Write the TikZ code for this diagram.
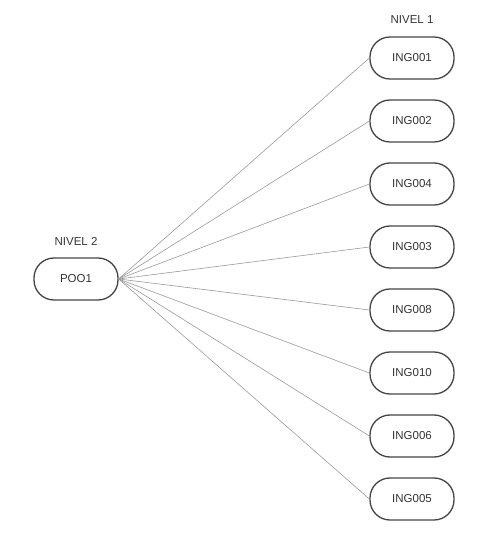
\documentclass[tikz,border=0pt]{standalone}
\usepackage{fontspec}
\setmainfont{Liberation Sans}
\usetikzlibrary{positioning}
\definecolor{boxline}{HTML}{454545}
\definecolor{txtcolor}{HTML}{333333}
\definecolor{linkcolor}{HTML}{9A9A9A}
\tikzset{
    coursenode/.style = {draw=boxline, line width=1.3pt, rounded corners=20pt,
                         minimum width=84pt, minimum height=42pt, inner sep=0pt,
                         text=txtcolor, font=\fontsize{11.5}{13}\selectfont},
    levellbl/.style   = {text=txtcolor, font=\fontsize{11.5}{13}\selectfont, inner sep=0pt},
    link/.style       = {linkcolor, line width=0.6pt},
}
\begin{document}
\begin{tikzpicture}[x=1pt, y=1pt, node distance=19.7pt]
\useasboundingbox (0,0) rectangle (489,536);

\node[coursenode] (P1) at (76,257) {POO1};
\node[levellbl] (L2) at (76,295) {NIVEL 2};

\node[coursenode] (I1) at (412,478) {ING001};
\node[coursenode, below=of I1] (I2) {ING002};
\node[coursenode, below=of I2] (I4) {ING004};
\node[coursenode, below=of I4] (I3) {ING003};
\node[coursenode, below=of I3] (I8) {ING008};
\node[coursenode, below=of I8] (I10) {ING010};
\node[coursenode, below=of I10] (I6) {ING006};
\node[coursenode, below=of I6] (I5) {ING005};
\node[levellbl] (L1) at (412,516) {NIVEL 1};

\foreach \n in {I1,I2,I4,I3,I8,I10,I6,I5}
    \draw[link] (P1.east) -- (\n.west);

\end{tikzpicture}
\end{document}
